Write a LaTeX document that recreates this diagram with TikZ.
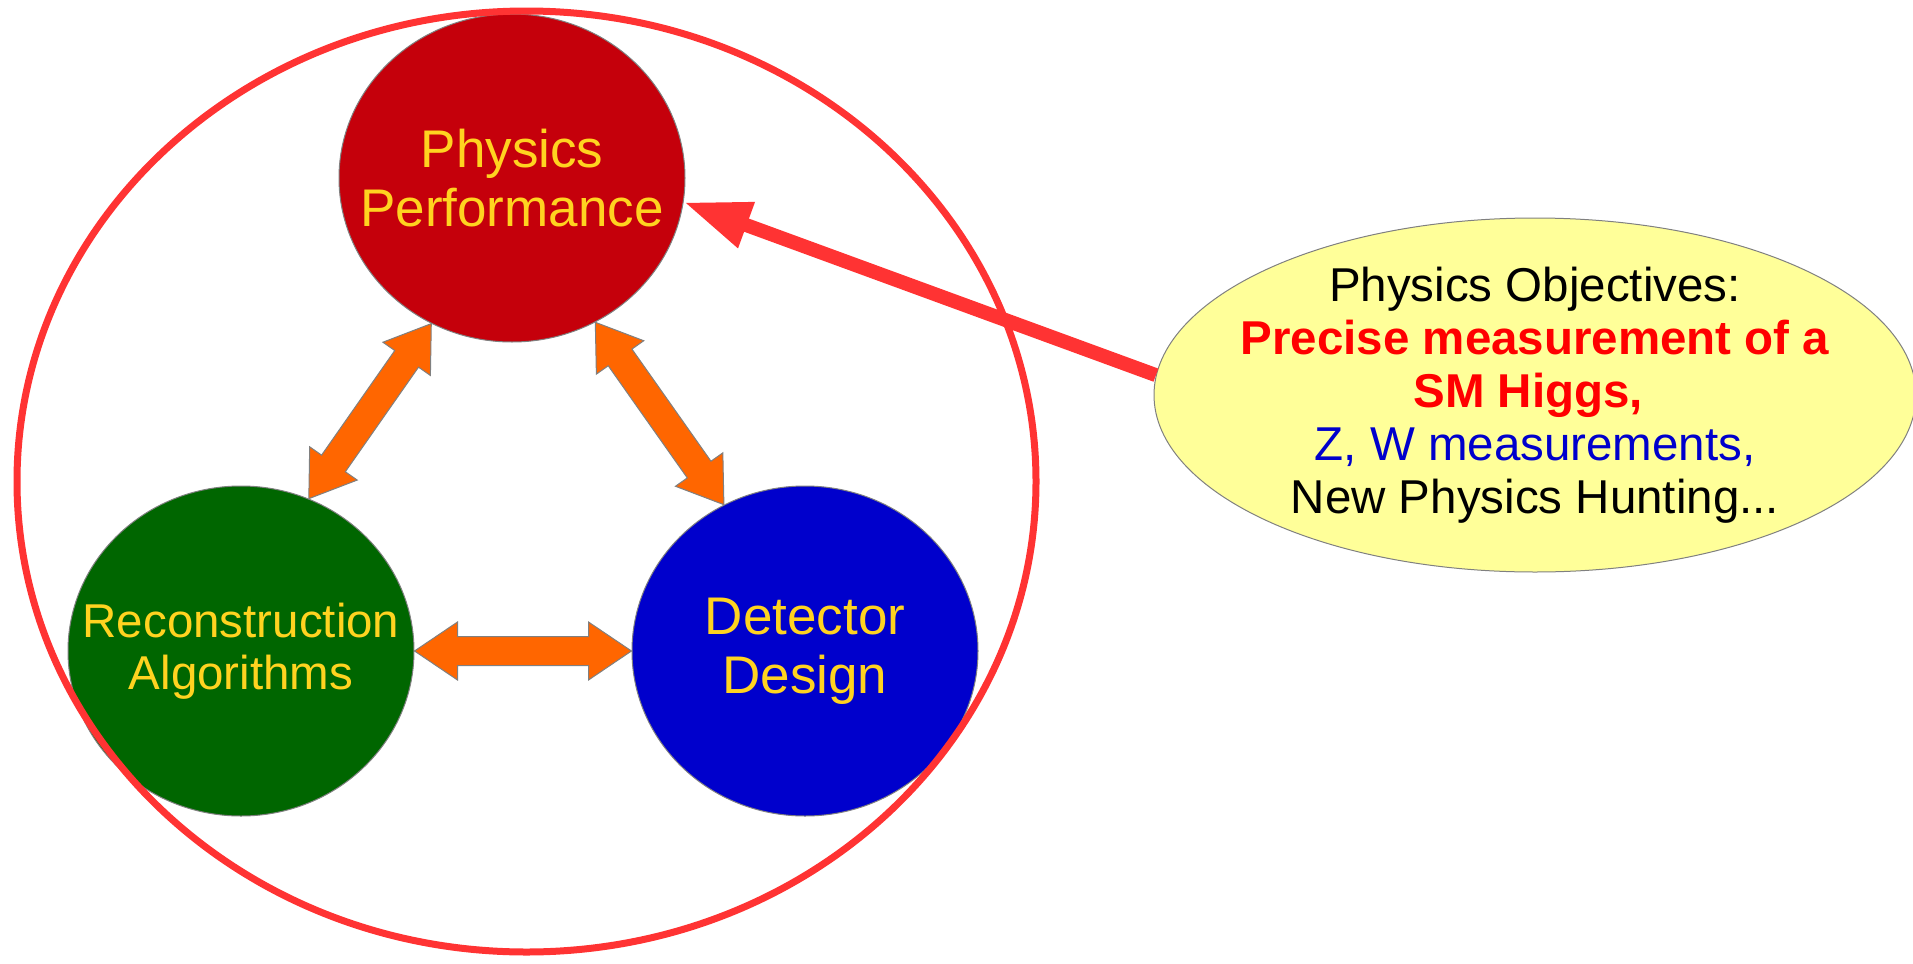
\documentclass[tikz,border=0pt]{standalone}
\usepackage{fontspec}
\setmainfont{Liberation Sans}
\usetikzlibrary{positioning,shapes.geometric,calc,arrows.meta}

\definecolor{physred}{HTML}{C5000B}
\definecolor{recgreen}{HTML}{006600}
\definecolor{detblue}{HTML}{0000CC}
\definecolor{labelgold}{HTML}{FFD320}
\definecolor{arrorange}{HTML}{FF6600}
\definecolor{framered}{HTML}{FF3333}
\definecolor{objyellow}{HTML}{FFFF99}
\definecolor{textred}{HTML}{FF0000}
\definecolor{textblue}{HTML}{0000CC}

\newcommand{\fatarrow}[2]{%
  \coordinate (ha) at ($(#1)!21.5pt!(#2)$);
  \coordinate (hb) at ($(#2)!21.5pt!(#1)$);
  \filldraw [fat arrow] (#1)
    -- ($(ha)!14.5pt!90:(#2)$) -- ($(ha)!7.25pt!90:(#2)$)
    -- ($(hb)!7.25pt!-90:(#1)$) -- ($(hb)!14.5pt!-90:(#1)$)
    -- (#2)
    -- ($(hb)!14.5pt!90:(#1)$) -- ($(hb)!7.25pt!90:(#1)$)
    -- ($(ha)!7.25pt!-90:(#2)$) -- ($(ha)!14.5pt!-90:(#2)$)
    -- cycle;}

\begin{document}
\begin{tikzpicture}[x=0.5pt, y=-0.5pt, on grid,
  bubble/.style={ellipse, draw=gray, line width=0.5pt, inner sep=0pt,
    minimum width=173pt, minimum height=165pt},
  bubble text/.style={text=labelgold, align=center,
    font=\fontsize{26.5pt}{29.5pt}\selectfont},
  fat arrow/.style={fill=arrorange, draw=gray, line width=0.5pt},
  pointer/.style={draw=framered, line width=7pt,
    -{Triangle[length=33.5pt, width=22.5pt]}}]
 \useasboundingbox (0,0) rectangle (1913,964);
 \node [bubble, fill=recgreen] (recon) at (241,651) {};
 \node [bubble, fill=detblue, right=282pt of recon] (detect) {};
 \node [bubble, fill=physred, minimum height=164pt,
   above right=236.5pt and 135.5pt of recon] (phys) {};
 \node [bubble text, font=\fontsize{23.75pt}{26.25pt}\selectfont] (reconlbl) at (recon) {Reconstruction\\Algorithms};
 \node [bubble text] (detectlbl) at (detect) {Detector\\Design};
 \node [bubble text] (physlbl) at (phys) {Physics\\Performance};
 \fatarrow{recon.66}{phys.241}
 \fatarrow{detect.119}{phys.300}
 \fatarrow{recon.0}{detect.180}
 \node [ellipse, draw=framered, line width=3.5pt, minimum width=509.5pt,
   minimum height=470.5pt, above right=84.75pt and 142.75pt of recon] (frame) {};
 \node [ellipse, fill=objyellow, draw=gray, line width=0.5pt, inner sep=0pt,
   minimum width=381pt, minimum height=177pt,
   below right=108.5pt and 511.5pt of phys] (obj) {};
 \node [align=center, font=\fontsize{23.75pt}{26.5pt}\selectfont] (objlbl) at (obj)
   {Physics Objectives:\\
    {\bfseries\color{textred}Precise measurement of a}\\
    {\bfseries\color{textred}SM Higgs,\kern0.28em}\\
    {\color{textblue}Z, W measurements,}\\
    New Physics Hunting...};
 \draw [pointer] (obj.177) -- (phys.-8);
\end{tikzpicture}
\end{document}
